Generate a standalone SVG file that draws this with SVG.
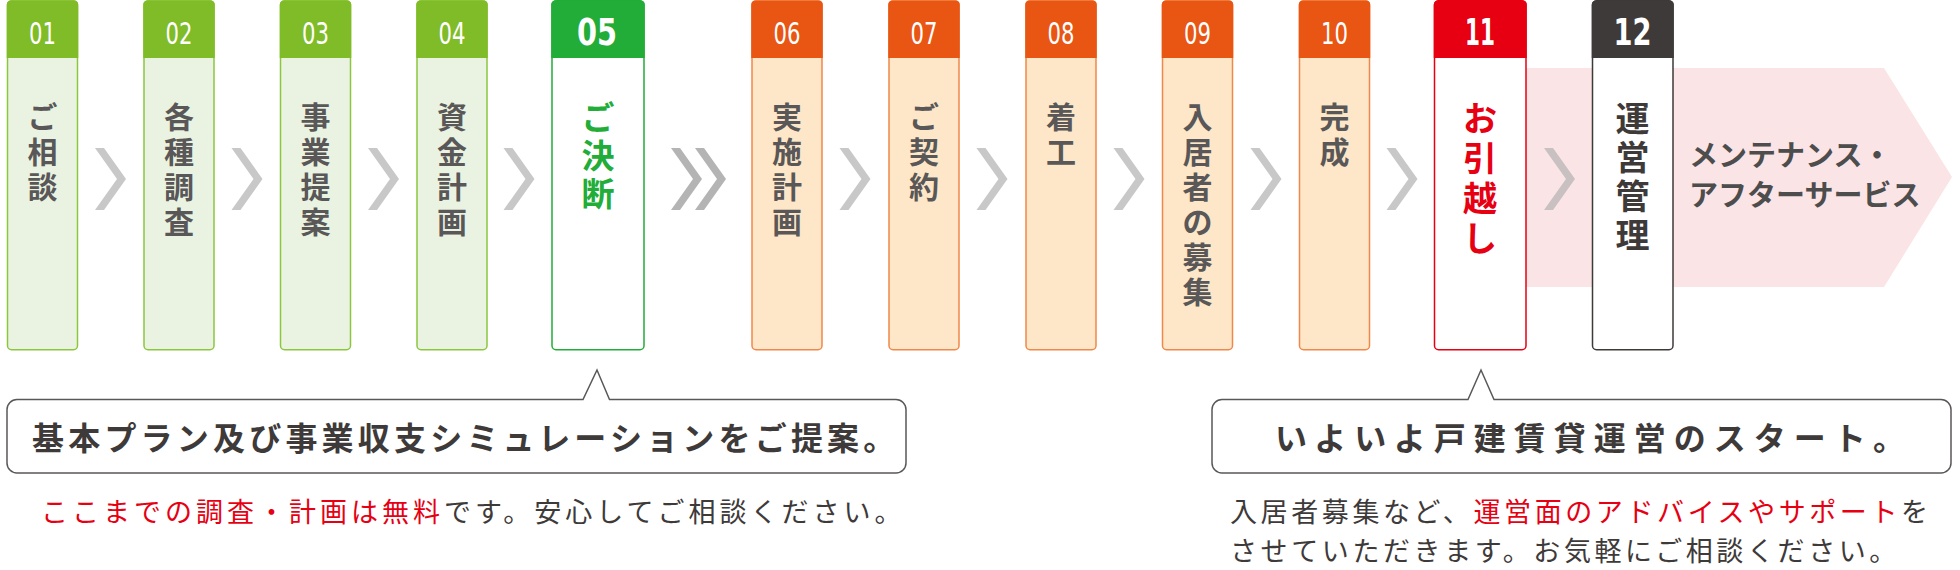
<svg xmlns="http://www.w3.org/2000/svg" width="1960" height="570" viewBox="0 0 1960 570">
<style>
.bg{fill:#ffffff}
.body{stroke-width:1.5}
.g .body{fill:#eaf3e1;stroke:#8cc63f}
.g .head{fill:#80bc27}
.g5 .body{fill:#ffffff;stroke:#22ac38}
.g5 .head{fill:#22ac38}
.o .body{fill:#fde7c8;stroke:#f0884a}
.o .head{fill:#e95513}
.r .body{fill:#ffffff;stroke:#e60012}
.r .head{fill:#e60012}
.k .body{fill:#ffffff;stroke:#3e3a39}
.k .head{fill:#3e3a39}
.num{font-family:"DejaVu Sans Condensed","DejaVu Sans",sans-serif;font-size:31px;fill:#ffffff;text-anchor:middle}
.numb{font-family:"DejaVu Sans Condensed","DejaVu Sans",sans-serif;font-size:37px;font-weight:bold;fill:#ffffff;text-anchor:middle}
.lbl{font-family:"Noto Sans CJK JP",sans-serif;font-size:30px;font-weight:bold;fill:#595757;text-anchor:middle}
.lblb{font-family:"Noto Sans CJK JP",sans-serif;font-size:34px;font-weight:bold;text-anchor:middle}
.chev{fill:#c8c8c8}
.chev2{fill:#b4b4b4}
.chevp{fill:#c9c0c1}
.callout{fill:#ffffff;stroke:#595757;stroke-width:1.5;stroke-linejoin:miter}
.ct{font-family:"Noto Sans CJK JP",sans-serif;font-size:32px;font-weight:bold;fill:#3e3a39}
.st{font-family:"Noto Sans CJK JP",sans-serif;font-size:27px;fill:#3e3a39}
.red{fill:#e60012}
.mt{font-family:"Noto Sans CJK JP",sans-serif;font-size:29px;font-weight:bold;fill:#4d4d4d}
</style>
<rect class="bg" x="0" y="0" width="1960" height="570"/>
<polygon id="maintenance-arrow" points="1500,68 1884,68 1952,177 1884,287 1500,287" fill="#fbe4e6"/>
<text class="mt" x="1689" y="166">メンテナンス・</text>
<text class="mt" x="1689" y="206">アフターサービス</text>

<g id="n01" class="g">
<rect class="body" x="7.5" y="0.75" width="70" height="349" rx="4"/>
<path class="head" d="M6.75,58 V4.75 a4,4 0 0 1 4,-4 h63.5 a4,4 0 0 1 4,4 V58 Z"/>
<text class="num" x="42.5" y="44" textLength="27" lengthAdjust="spacingAndGlyphs">01</text>
<text class="lbl"><tspan x="42.5" y="128">ご</tspan><tspan x="42.5" y="163">相</tspan><tspan x="42.5" y="198">談</tspan></text>
</g>
<g id="n02" class="g">
<rect class="body" x="144" y="0.75" width="70" height="349" rx="4"/>
<path class="head" d="M143.25,58 V4.75 a4,4 0 0 1 4,-4 h63.5 a4,4 0 0 1 4,4 V58 Z"/>
<text class="num" x="179" y="44" textLength="27" lengthAdjust="spacingAndGlyphs">02</text>
<text class="lbl"><tspan x="179" y="128">各</tspan><tspan x="179" y="163">種</tspan><tspan x="179" y="198">調</tspan><tspan x="179" y="233">査</tspan></text>
</g>
<g id="n03" class="g">
<rect class="body" x="280.5" y="0.75" width="70" height="349" rx="4"/>
<path class="head" d="M279.75,58 V4.75 a4,4 0 0 1 4,-4 h63.5 a4,4 0 0 1 4,4 V58 Z"/>
<text class="num" x="315.5" y="44" textLength="27" lengthAdjust="spacingAndGlyphs">03</text>
<text class="lbl"><tspan x="315.5" y="128">事</tspan><tspan x="315.5" y="163">業</tspan><tspan x="315.5" y="198">提</tspan><tspan x="315.5" y="233">案</tspan></text>
</g>
<g id="n04" class="g">
<rect class="body" x="417" y="0.75" width="70" height="349" rx="4"/>
<path class="head" d="M416.25,58 V4.75 a4,4 0 0 1 4,-4 h63.5 a4,4 0 0 1 4,4 V58 Z"/>
<text class="num" x="452" y="44" textLength="27" lengthAdjust="spacingAndGlyphs">04</text>
<text class="lbl"><tspan x="452" y="128">資</tspan><tspan x="452" y="163">金</tspan><tspan x="452" y="198">計</tspan><tspan x="452" y="233">画</tspan></text>
</g>
<g id="n05" class="g5">
<rect class="body" x="552" y="0.75" width="92" height="349" rx="4"/>
<path class="head" d="M551.25,58 V4.75 a4,4 0 0 1 4,-4 h85.5 a4,4 0 0 1 4,4 V58 Z"/>
<text class="numb" x="597" y="45" textLength="40" lengthAdjust="spacingAndGlyphs">05</text>
<text class="lblb" fill="#22ac38" style="font-size:33px"><tspan x="598" y="130">ご</tspan><tspan x="598" y="168">決</tspan><tspan x="598" y="206">断</tspan></text>
</g>
<g id="n06" class="o">
<rect class="body" x="752" y="0.75" width="70" height="349" rx="4"/>
<path class="head" d="M751.25,58 V4.75 a4,4 0 0 1 4,-4 h63.5 a4,4 0 0 1 4,4 V58 Z"/>
<text class="num" x="787" y="44" textLength="27" lengthAdjust="spacingAndGlyphs">06</text>
<text class="lbl"><tspan x="787" y="128">実</tspan><tspan x="787" y="163">施</tspan><tspan x="787" y="198">計</tspan><tspan x="787" y="233">画</tspan></text>
</g>
<g id="n07" class="o">
<rect class="body" x="889" y="0.75" width="70" height="349" rx="4"/>
<path class="head" d="M888.25,58 V4.75 a4,4 0 0 1 4,-4 h63.5 a4,4 0 0 1 4,4 V58 Z"/>
<text class="num" x="924" y="44" textLength="27" lengthAdjust="spacingAndGlyphs">07</text>
<text class="lbl"><tspan x="924" y="128">ご</tspan><tspan x="924" y="163">契</tspan><tspan x="924" y="198">約</tspan></text>
</g>
<g id="n08" class="o">
<rect class="body" x="1026" y="0.75" width="70" height="349" rx="4"/>
<path class="head" d="M1025.25,58 V4.75 a4,4 0 0 1 4,-4 h63.5 a4,4 0 0 1 4,4 V58 Z"/>
<text class="num" x="1061" y="44" textLength="27" lengthAdjust="spacingAndGlyphs">08</text>
<text class="lbl"><tspan x="1061" y="128">着</tspan><tspan x="1061" y="163">工</tspan></text>
</g>
<g id="n09" class="o">
<rect class="body" x="1162.5" y="0.75" width="70" height="349" rx="4"/>
<path class="head" d="M1161.75,58 V4.75 a4,4 0 0 1 4,-4 h63.5 a4,4 0 0 1 4,4 V58 Z"/>
<text class="num" x="1197.5" y="44" textLength="27" lengthAdjust="spacingAndGlyphs">09</text>
<text class="lbl"><tspan x="1197.5" y="128">入</tspan><tspan x="1197.5" y="163">居</tspan><tspan x="1197.5" y="198">者</tspan><tspan x="1197.5" y="233">の</tspan><tspan x="1197.5" y="268">募</tspan><tspan x="1197.5" y="303">集</tspan></text>
</g>
<g id="n10" class="o">
<rect class="body" x="1299.5" y="0.75" width="70" height="349" rx="4"/>
<path class="head" d="M1298.75,58 V4.75 a4,4 0 0 1 4,-4 h63.5 a4,4 0 0 1 4,4 V58 Z"/>
<text class="num" x="1334.5" y="44" textLength="27" lengthAdjust="spacingAndGlyphs">10</text>
<text class="lbl"><tspan x="1334.5" y="128">完</tspan><tspan x="1334.5" y="163">成</tspan></text>
</g>
<g id="n11" class="r">
<rect class="body" x="1434.5" y="0.75" width="91.5" height="349" rx="4"/>
<path class="head" d="M1433.75,58 V4.75 a4,4 0 0 1 4,-4 h85 a4,4 0 0 1 4,4 V58 Z"/>
<text class="numb" x="1480" y="45" textLength="30" lengthAdjust="spacingAndGlyphs">11</text>
<text class="lblb" fill="#e60012"><tspan x="1480" y="131">お</tspan><tspan x="1480" y="171">引</tspan><tspan x="1480" y="211">越</tspan><tspan x="1480" y="251">し</tspan></text>
</g>
<g id="n12" class="k">
<rect class="body" x="1592.5" y="0.75" width="80.5" height="349" rx="4"/>
<path class="head" d="M1591.75,58 V4.75 a4,4 0 0 1 4,-4 h74 a4,4 0 0 1 4,4 V58 Z"/>
<text class="numb" x="1632.5" y="45" textLength="38" lengthAdjust="spacingAndGlyphs">12</text>
<text class="lblb" fill="#3e3a39"><tspan x="1632.5" y="131">運</tspan><tspan x="1632.5" y="170">営</tspan><tspan x="1632.5" y="209">管</tspan><tspan x="1632.5" y="248">理</tspan></text>
</g>

<g id="connectors">
<polygon class="chev" points="95,148 104,148 126,179 104,210 95,210 117,179"/>
<polygon class="chev" points="231.5,148 240.5,148 262.5,179 240.5,210 231.5,210 253.5,179"/>
<polygon class="chev" points="368,148 377,148 399,179 377,210 368,210 390,179"/>
<polygon class="chev" points="503.5,148 512.5,148 534.5,179 512.5,210 503.5,210 525.5,179"/>
<polygon class="chev2" points="671,148 680,148 702,179 680,210 671,210 693,179"/>
<polygon class="chev2" points="695,148 704,148 726,179 704,210 695,210 717,179"/>
<polygon class="chev" points="839.5,148 848.5,148 870.5,179 848.5,210 839.5,210 861.5,179"/>
<polygon class="chev" points="976.5,148 985.5,148 1007.5,179 985.5,210 976.5,210 998.5,179"/>
<polygon class="chev" points="1113.5,148 1122.5,148 1144.5,179 1122.5,210 1113.5,210 1135.5,179"/>
<polygon class="chev" points="1250.5,148 1259.5,148 1281.5,179 1259.5,210 1250.5,210 1272.5,179"/>
<polygon class="chev" points="1386.5,148 1395.5,148 1417.5,179 1395.5,210 1386.5,210 1408.5,179"/>
<polygon class="chevp" points="1544,148 1553,148 1575,179 1553,210 1544,210 1566,179"/>
</g>

<g id="callout1">
<path class="callout" d="M17,399.5 H583 L597,370 L609.5,399.5 H896 a10,10 0 0 1 10,10 V463 a10,10 0 0 1 -10,10 H17 a10,10 0 0 1 -10,-10 V409.5 a10,10 0 0 1 10,-10 Z"/>
<text class="ct" x="32" y="450" letter-spacing="4.2">基本プラン及び事業収支シミュレーションをご提案。</text>
</g>
<text class="st" x="41" y="522" letter-spacing="4"><tspan class="red">ここまでの調査・計画は無料</tspan>です。安心してご相談ください。</text>

<g id="callout2">
<path class="callout" d="M1222,399.5 H1468 L1481,370 L1494,399.5 H1941 a10,10 0 0 1 10,10 V463 a10,10 0 0 1 -10,10 H1222 a10,10 0 0 1 -10,-10 V409.5 a10,10 0 0 1 10,-10 Z"/>
<text class="ct" x="1275" y="450" letter-spacing="8">いよいよ戸建賃貸運営のスタート。</text>
</g>
<text class="st" x="1230" y="522" letter-spacing="3.6">入居者募集など、<tspan class="red">運営面のアドバイスやサポート</tspan>を</text>
<text class="st" x="1230" y="561" letter-spacing="3.6">させていただきます。お気軽にご相談ください。</text>
</svg>
